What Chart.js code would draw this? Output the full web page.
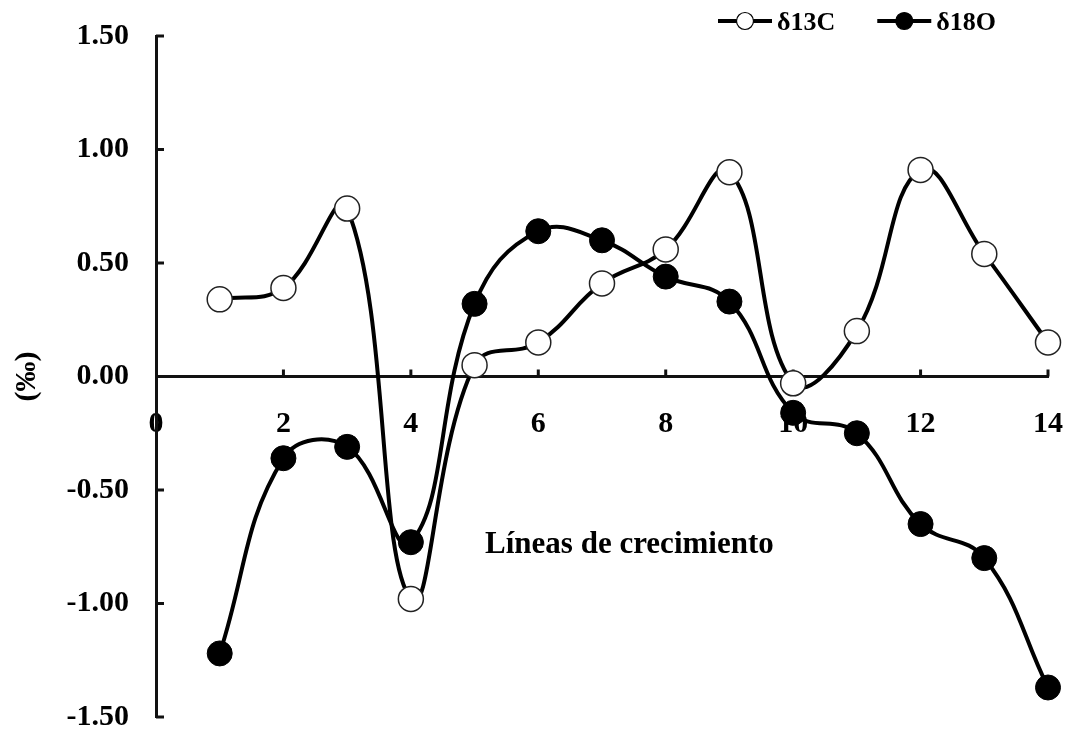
<!DOCTYPE html>
<html>
<head>
<meta charset="utf-8">
<script src="https://cdn.jsdelivr.net/npm/chart.js@4/dist/chart.umd.min.js"></script>
<style>
  body { margin: 0; background: #fff; }
</style>
</head>
<body>
<canvas id="chart" width="1069" height="731"></canvas>
<script>
// growth lines (x) and isotope values (‰)
var lines = [1, 2, 3, 4, 5, 6, 7, 8, 9, 10, 11, 12, 13, 14];
var d13C = [0.34, 0.39, 0.74, -0.98, 0.05, 0.15, 0.41, 0.56, 0.90, -0.03, 0.20, 0.91, 0.54, 0.15];
var d18O = [-1.22, -0.36, -0.31, -0.73, 0.32, 0.64, 0.60, 0.44, 0.33, -0.16, -0.25, -0.65, -0.80, -1.37];
var seriesNames = ['\u03b413C', '\u03b418O'];
var xTitle = 'L\u00edneas de crecimiento';
var yTitle = '(\u2030)';

var FONT = "'Liberation Serif', 'Times New Roman', serif";

function toPoints(vals) {
    return vals.map(function(v, i){ return {x: lines[i], y: v}; });
}

// small inward tick marks like the original
var axisTicks = {
    id: 'axisTicks',
    beforeDatasetsDraw: function(chart){
        var ctx = chart.ctx, x = chart.scales.x, y = chart.scales.y;
        var y0 = y.getPixelForValue(0);
        var left = chart.chartArea.left;
        ctx.save();
        ctx.strokeStyle = '#111';
        ctx.lineWidth = 3;
        x.ticks.forEach(function(t){
            if (t.value === 0) return;
            var px = x.getPixelForValue(t.value);
            ctx.beginPath(); ctx.moveTo(px, y0); ctx.lineTo(px, y0 - 7); ctx.stroke();
        });
        y.ticks.forEach(function(t){
            var py = y.getPixelForValue(t.value);
            ctx.beginPath(); ctx.moveTo(left, py); ctx.lineTo(left + 8, py); ctx.stroke();
        });
        // x axis title sits inside the plot
        ctx.fillStyle = '#000';
        ctx.font = 'bold 31px ' + FONT;
        ctx.textAlign = 'center';
        ctx.textBaseline = 'alphabetic';
        ctx.fillText(xTitle, x.getPixelForValue(7.43), y.getPixelForValue(-0.776));
        ctx.restore();
    }
};

// legend with line + marker symbols, top right
var lineLegend = {
    id: 'lineLegend',
    afterDraw: function(chart){
        var ctx = chart.ctx;
        var xPos = 718, yPos = 21;
        ctx.save();
        ctx.font = 'bold 26px ' + FONT;
        ctx.textBaseline = 'middle';
        ctx.textAlign = 'left';
        chart.data.datasets.forEach(function(ds){
            ctx.strokeStyle = '#000';
            ctx.lineWidth = 4;
            ctx.beginPath(); ctx.moveTo(xPos, yPos); ctx.lineTo(xPos + 54, yPos); ctx.stroke();
            ctx.beginPath(); ctx.arc(xPos + 27, yPos, 8.5, 0, Math.PI * 2);
            ctx.fillStyle = ds.pointBackgroundColor;
            ctx.fill();
            ctx.lineWidth = 1.2;
            ctx.stroke();
            ctx.fillStyle = '#000';
            ctx.fillText(ds.label, xPos + 59, yPos + 2);
            xPos += 59 + ctx.measureText(ds.label).width + 42;
        });
        ctx.restore();
    }
};

var data = {
    datasets: [{
        label: seriesNames[0],
        data: toPoints(d13C),
        borderColor: '#000',
        borderWidth: 4,
        pointBackgroundColor: '#fff',
        pointBorderColor: '#222',
        pointBorderWidth: 1.5,
        pointRadius: 12.5,
        pointHoverRadius: 12.5,
        tension: 0.42,
        clip: false,
        order: 2
    }, {
        label: seriesNames[1],
        data: toPoints(d18O),
        borderColor: '#000',
        borderWidth: 4,
        pointBackgroundColor: '#000',
        pointBorderColor: '#000',
        pointBorderWidth: 1,
        pointRadius: 12.5,
        pointHoverRadius: 12.5,
        tension: 0.42,
        clip: false,
        order: 1
    }]
};

var options = {
    responsive: false,
    animation: false,
    events: [],
    layout: { autoPadding: false, padding: { top: 36, right: 21, left: 0, bottom: 14 } },
    plugins: {
        legend: { display: false },
        tooltip: { enabled: false }
    },
    scales: {
        x: {
            type: 'linear',
            position: { y: 0 },
            min: 0, max: 14,
            afterFit: function(scale){
                scale.height = 0;
                scale.paddingLeft = 0;
                scale.paddingRight = 0;
            },
            grid: { display: false, drawTicks: false },
            border: { display: true, color: '#111', width: 3 },
            ticks: {
                stepSize: 2,
                padding: 30,
                color: '#000',
                maxRotation: 0,
                font: { family: FONT, size: 30, weight: 'bold' }
            }
        },
        y: {
            min: -1.5, max: 1.5,
            afterFit: function(scale){
                scale.width = 156;
                scale.paddingTop = 0;
                scale.paddingBottom = 0;
            },
            grid: { display: false, drawTicks: false },
            border: { display: true, color: '#111', width: 3 },
            ticks: {
                stepSize: 0.5,
                padding: 27,
                color: '#000',
                font: { family: FONT, size: 30, weight: 'bold', lineHeight: 1 },
                callback: function(v){ return v.toFixed(2); }
            },
            title: {
                display: true,
                text: yTitle,
                color: '#000',
                font: { family: FONT, size: 30, weight: 'bold' },
                padding: { top: 9, bottom: 21 }
            }
        }
    }
};

var ctx = document.getElementById('chart').getContext('2d');
var chart = new Chart(ctx, {
    type: 'line',
    data: data,
    options: options,
    plugins: [axisTicks, lineLegend]
});
</script>
</body>
</html>
